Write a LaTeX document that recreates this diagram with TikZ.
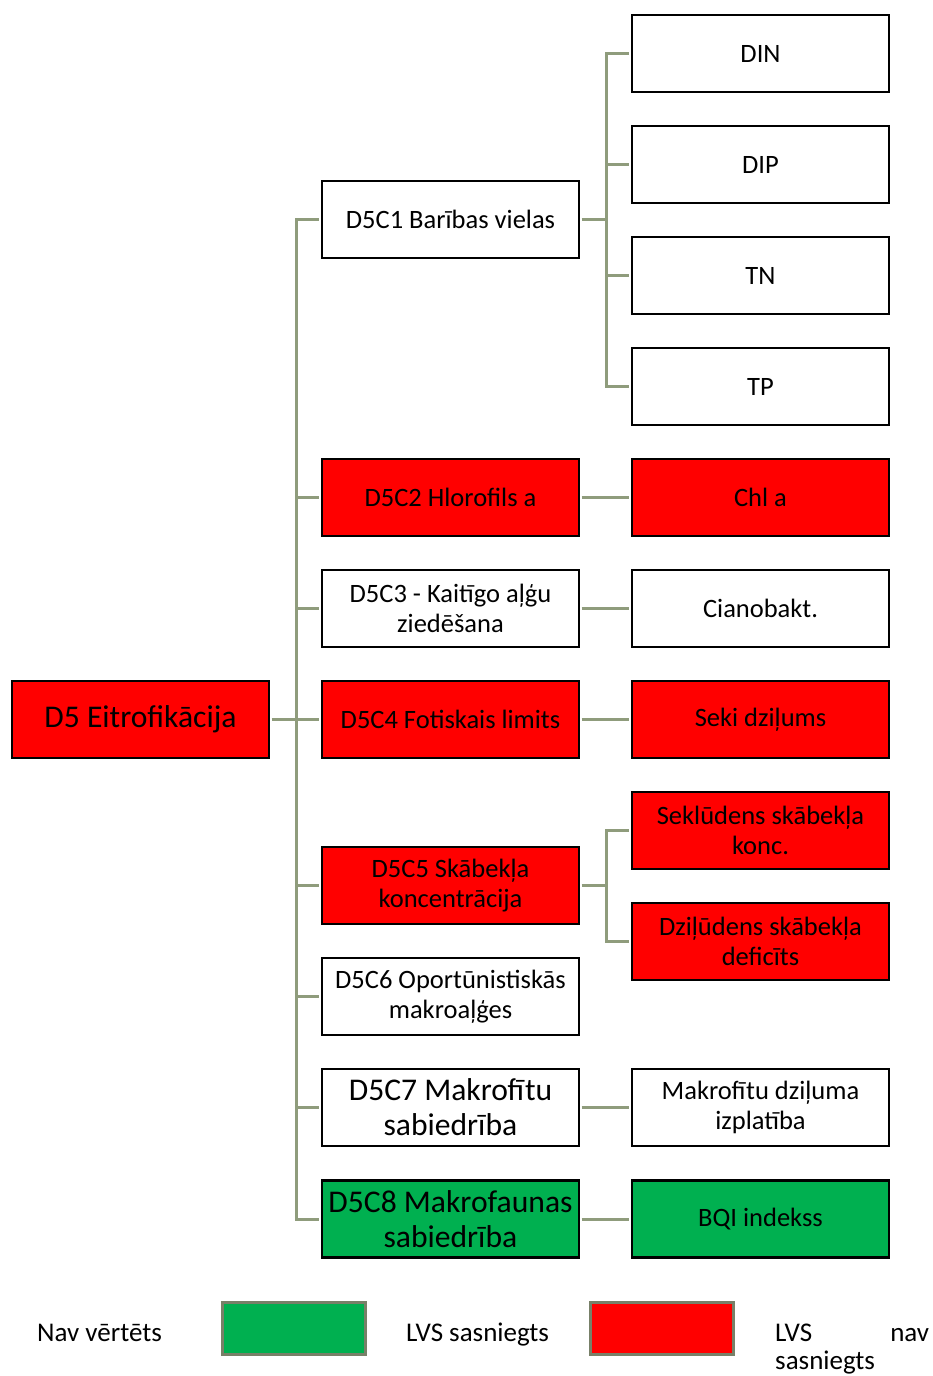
\documentclass[tikz,border=0pt]{standalone}
\usepackage{fontspec}
\setmainfont{Carlito}
\usetikzlibrary{positioning}
\definecolor{lvsred}{RGB}{255,0,0}
\definecolor{lvsgreen}{RGB}{0,176,80}
\definecolor{linkgreen}{RGB}{143,156,124}
\definecolor{keyedge}{RGB}{120,128,104}

\begin{document}
\begin{tikzpicture}[x=1pt,y=-1pt,
                box/.style={draw=black,line width=2.6pt,minimum width=257pt,minimum height=77pt,
                    inner sep=2pt,align=center,font=\fontsize{26.5}{30}\selectfont},
                big/.style={font=\fontsize{31.6}{35}\selectfont},
                bad/.style={fill=lvsred},
                good/.style={fill=lvsgreen},
                key/.style={draw=keyedge,line width=3pt,minimum width=143pt,minimum height=52pt,inner sep=0pt},
                keytext/.style={font=\fontsize{27}{28}\selectfont,inner sep=0pt,anchor=base west}
            ]
                \useasboundingbox (0,0) rectangle (932,1376);

                \node[box,big,bad] (root) at (140.5,719.5) {D5 Eitrofikācija};

                \node[box]      (c1) at (450.5,219.5)  {D5C1 Barības vielas};
                \node[box,bad]  (c2) at (450.5,497.5)  {D5C2 Hlorofils a};
                \node[box]      (c3) at (450.5,608.5)  {D5C3 - Kaitīgo aļģu\\ziedēšana};
                \node[box,bad]  (c4) at (450.5,719.5)  {D5C4 Fotiskais limits};
                \node[box,bad]  (c5) at (450.5,885.5)  {D5C5 Skābekļa\\koncentrācija};
                \node[box]      (c6) at (450.5,996.5)  {D5C6 Oportūnistiskās\\makroaļģes};
                \node[box,big]  (c7) at (450.5,1107.5) {D5C7 Makrofītu\\sabiedrība};
                \node[box,big,good] (c8) at (450.5,1219) {D5C8 Makrofaunas\\sabiedrība};

                \node[box]      (din)   at (760.5,53.5)   {DIN};
                \node[box]      (dip)   at (760.5,164.5)  {DIP};
                \node[box]      (tn)    at (760.5,275.5)  {TN};
                \node[box]      (tp)    at (760.5,386.5)  {TP};
                \node[box,bad]  (chl)   at (760.5,497.5)  {Chl a};
                \node[box]      (ciano) at (760.5,608.5)  {Cianobakt.};
                \node[box,bad]  (seki)  at (760.5,719.5)  {Seki dziļums};
                \node[box,bad]  (sekl)  at (760.5,830.5)  {Seklūdens skābekļa\\konc.};
                \node[box,bad]  (dzil)  at (760.5,941.5)  {Dziļūdens skābekļa\\deficīts};
                \node[box]      (makdz) at (760.5,1107.5) {Makrofītu dziļuma\\izplatība};
                \node[box,good] (bqi)   at (760.5,1219)   {BQI indekss};

                \coordinate (trunk) at (296,719.5);
                \coordinate (nfork) at (606,219.5);
                \coordinate (ofork) at (606,885.5);

                \begin{scope}[linkgreen,line width=3pt]
                    \draw[shorten <=1.3pt] (root.east) -- (trunk);
                    \foreach \i in {1,...,8}
                        \draw[shorten >=1.3pt] (trunk) |- (c\i.west);
                    \draw[shorten <=1.3pt] (c1.east) -- (nfork);
                    \foreach \n in {din,dip,tn,tp}
                        \draw[shorten >=1.3pt] (nfork) |- (\n.west);
                    \draw[shorten <=1.3pt] (c5.east) -- (ofork);
                    \foreach \n in {sekl,dzil}
                        \draw[shorten >=1.3pt] (ofork) |- (\n.west);
                    \draw[shorten <=1.3pt,shorten >=1.3pt] (c2.east) -- (chl.west);
                    \draw[shorten <=1.3pt,shorten >=1.3pt] (c3.east) -- (ciano.west);
                    \draw[shorten <=1.3pt,shorten >=1.3pt] (c4.east) -- (seki.west);
                    \draw[shorten <=1.3pt,shorten >=1.3pt] (c7.east) -- (makdz.west);
                    \draw[shorten <=1.3pt,shorten >=1.3pt] (c8.east) -- (bqi.west);
                \end{scope}

                \node[keytext] (nav)  at (37,1341)  {Nav vērtēts};
                \node[key,good] (kgood) at (293.5,1328) {};
                \node[keytext] (ok)   at (406,1341) {LVS sasniegts};
                \node[key,bad]  (kbad)  at (661.5,1328.5) {};
                \node[keytext,text width=154pt,align=left] (notok) at (775,1341) {LVS\hfill nav\\sasniegts};
            \end{tikzpicture}
\end{document}
